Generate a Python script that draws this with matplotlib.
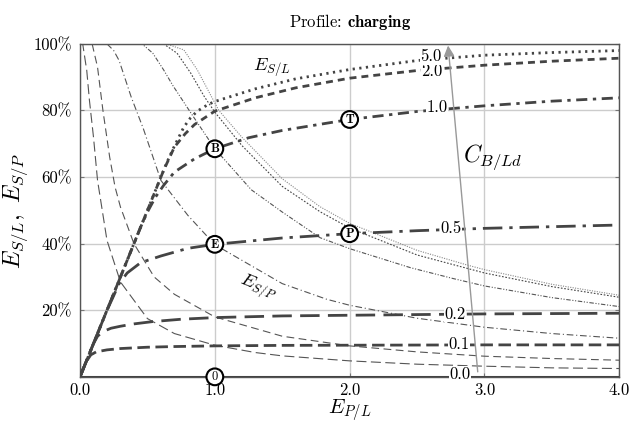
import numpy as np
import matplotlib
matplotlib.use("Agg")
import matplotlib.pyplot as plt

plt.rcParams['font.family'] = 'serif'
plt.rcParams['font.serif'] = ['cmr10']
plt.rcParams['mathtext.fontset'] = 'cm'
plt.rcParams['axes.formatter.use_mathtext'] = True

# battery capacity C_B/Ld of each curve pair
cap_labels = ['0.0', '0.1', '0.2', '0.5', '1.0', '2.0', '5.0']

# E_S/L (thick curves), in percent
sl_x_00 = [0.0, 4.0]
sl_y_00 = [0.0, 0.0]
sl_x_01 = [0, 0.03, 0.05, 0.08, 0.12, 0.2, 0.3, 0.5, 0.7, 1.0, 1.5, 2.0, 3.0, 4.0]
sl_y_01 = [0, 3.0, 4.8, 6.6, 7.5, 8.1, 8.5, 8.9, 9.1, 9.3, 9.45, 9.5, 9.6, 9.6]
sl_x_02 = [0, 0.1, 0.13, 0.17, 0.23, 0.3, 0.4, 0.54, 0.75, 1.0, 1.5, 2.0, 2.5, 3.0, 4.0]
sl_y_02 = [0, 10, 12.2, 13.6, 14.6, 15.2, 15.9, 16.6, 17.3, 17.8, 18.3, 18.5, 18.7, 18.9, 19.1]
sl_x_05 = [0, 0.2, 0.24, 0.29, 0.35, 0.45, 0.6, 0.8, 1.0, 1.5, 2.0, 2.5, 3.0, 3.5, 4.0]
sl_y_05 = [0, 20, 23.5, 28, 31.2, 34.3, 36.3, 38.6, 39.8, 41.7, 43.0, 43.9, 44.6, 45.1, 45.6]
sl_x_10 = [0, 0.45, 0.5, 0.56, 0.62, 0.7, 0.85, 1.0, 1.25, 1.5, 2.0, 2.5, 3.0, 3.5, 4.0]
sl_y_10 = [0, 45, 49.5, 54, 57.5, 61.5, 65.5, 68.5, 71.8, 74, 77.3, 79.7, 81.4, 82.8, 83.8]
sl_x_20 = [0, 0.62, 0.7, 0.78, 0.85, 1.0, 1.3, 1.6, 2.0, 2.5, 3.0, 3.5, 4.0]
sl_y_20 = [0, 62, 69, 73, 75.8, 79.8, 83.8, 86.8, 89.7, 92.0, 93.6, 94.8, 95.7]
sl_x_50 = [0, 0.64, 0.7, 0.77, 0.82, 0.87, 0.95, 1.0, 1.3, 1.6, 2.0, 2.5, 3.0, 3.5, 4.0]
sl_y_50 = [0, 64, 69.3, 75, 77.8, 79.8, 81.8, 82.7, 86.5, 89.5, 92.3, 95, 96.6, 97.4, 98]

# E_S/P (thin curves), in percent
sp_x_01 = [0, 0.02, 0.05, 0.07, 0.1, 0.13, 0.2, 0.3, 0.5, 0.7, 1.0, 1.3, 1.5, 2.0, 2.5, 3.0, 3.5, 4.0]
sp_y_01 = [100, 100, 92, 83, 72, 59, 41, 28.5, 17.5, 13, 9.5, 7.3, 6.3, 4.8, 3.8, 3.2, 2.7, 2.5]
sp_x_02 = [0, 0.09, 0.13, 0.17, 0.22, 0.26, 0.3, 0.4, 0.55, 0.7, 1.0, 1.5, 2.0, 2.5, 3.0, 3.5, 4.0]
sp_y_02 = [100, 100, 93, 80, 66, 57, 51, 40, 30, 24.8, 18, 12.2, 9.3, 7.5, 6.2, 5.5, 5.0]
sp_x_05 = [0, 0.2, 0.25, 0.29, 0.38, 0.47, 0.6, 0.8, 1.0, 1.5, 1.83, 2.0, 2.5, 3.0, 3.5, 4.0]
sp_y_05 = [100, 100, 98, 95, 84, 74.5, 59, 48.5, 39.7, 28, 23.3, 21.5, 17.6, 14.9, 13, 11.6]
sp_x_10 = [0, 0.46, 0.54, 0.62, 0.69, 0.82, 1.0, 1.27, 1.5, 1.78, 2.0, 2.45, 2.77, 3.0, 3.5, 4.0]
sp_y_10 = [100, 100, 97.2, 92.2, 87.4, 79.4, 68.5, 56.2, 49.5, 41.8, 38.5, 32.8, 29.5, 27.3, 23.8, 21.1]
sp_x_20 = [0, 0.62, 0.72, 0.82, 0.92, 1.0, 1.2, 1.5, 1.78, 2.0, 2.5, 2.87, 3.0, 3.5, 4.0]
sp_y_20 = [100, 100, 97.2, 91.3, 84.3, 79.5, 69.5, 57.2, 49.6, 44.7, 36.6, 32.6, 31.2, 27.1, 23.9]
sp_x_50 = [0, 0.64, 0.77, 0.87, 0.96, 1.03, 1.2, 1.5, 1.78, 2.0, 2.5, 2.87, 3.0, 3.5, 4.0]
sp_y_50 = [100, 100, 98.2, 92.2, 85.3, 80, 72, 59.5, 51.1, 46.1, 38, 33.6, 32.2, 27.8, 24.5]

x_ticks = [0, 1, 2, 3, 4]
x_ticklabels = ['0.0', '1.0', '2.0', '3.0', '4.0']
y_ticks = [0, 20, 40, 60, 80, 100]
y_ticklabels = ['', '20%', '40%', '60%', '80%', '100%']

thick_col = '#444444'

fig = plt.figure(figsize=(6.3, 4.22), dpi=100)
ax = fig.add_axes([0.127, 0.107, 0.856, 0.789])

sl_curves = [
    (sl_x_00, sl_y_00, '-', 2.2),
    (sl_x_01, sl_y_01, (0, (4.5, 2)), 2.0),
    (sl_x_02, sl_y_02, (0, (7, 3)), 2.0),
    (sl_x_05, sl_y_05, (0, (7, 2.5, 1.2, 2.5)), 2.0),
    (sl_x_10, sl_y_10, (0, (4, 2, 1.2, 2)), 2.0),
    (sl_x_20, sl_y_20, (0, (2.5, 1.8)), 2.0),
    (sl_x_50, sl_y_50, (0, (0.8, 1.6)), 2.0),
]
for xs, ys, ls, lw in sl_curves:
    ax.plot(xs, ys, color=thick_col, ls=ls, lw=lw, zorder=3)

sp_curves = [
    (sp_x_01, sp_y_01, (0, (9, 4)), '#555555'),
    (sp_x_02, sp_y_02, (0, (7, 4)), '#555555'),
    (sp_x_05, sp_y_05, (0, (6, 2.5, 1, 2.5)), '#555555'),
    (sp_x_10, sp_y_10, (0, (4, 1.5, 1, 1.5, 1, 1.5)), '#555555'),
    (sp_x_20, sp_y_20, (0, (1.5, 1.5)), '#444444'),
    (sp_x_50, sp_y_50, (0, (1, 1.2)), '#888888'),
]
for xs, ys, ls, col in sp_curves:
    ax.plot(xs, ys, color=col, ls=ls, lw=0.8, zorder=2)

# capacity labels sitting on the E_S/L curves
label_x = [2.82, 2.81, 2.78, 2.75, 2.65, 2.61, 2.6]
label_dy = [0.8, 0.3, 0.0, 0.4, 0.6, -0.6, 0.8]
for (xs, ys, _, _), lab, lx, dy in zip(sl_curves, cap_labels, label_x, label_dy):
    ly = np.interp(lx, xs, ys)
    ax.text(lx, ly + dy, lab, ha='center', va='center', fontsize=12, zorder=5,
            bbox=dict(fc='white', ec='none', pad=0.2))

# arrow for increasing capacity
ax.annotate('', xy=(2.73, 99.5), xytext=(2.95, 1.5),
            arrowprops=dict(arrowstyle='-|>', color='#999999', lw=1.0,
                            mutation_scale=16, shrinkA=0, shrinkB=0),
            zorder=4)
ax.text(3.06, 66, r'$C_{B/Ld}$', fontsize=17, ha='center', va='center')

ax.text(1.42, 93, r'$E_{S/L}$', fontsize=13, ha='center', va='center')
ax.text(1.32, 27, r'$E_{S/P}$', fontsize=13, ha='center', va='center', rotation=-22)

# circled operating points
points = [('0', sl_x_00, sl_y_00, 1.0), ('E', sl_x_05, sl_y_05, 1.0),
          ('B', sl_x_10, sl_y_10, 1.0), ('T', sl_x_10, sl_y_10, 2.0),
          ('P', sl_x_05, sl_y_05, 2.0)]
for name, xs, ys, px in points:
    py = np.interp(px, xs, ys)
    ax.text(px, py, r'$\mathbf{%s}$' % name, fontsize=9, ha='center', va='center', zorder=6,
            bbox=dict(boxstyle='circle,pad=0.15', fc='white', ec='black', lw=1.5))

ax.set_xlim(0, 4)
ax.set_ylim(0, 100)
ax.set_xticks(x_ticks)
ax.set_xticklabels(x_ticklabels, fontsize=12)
ax.set_yticks(y_ticks)
ax.set_yticklabels(y_ticklabels, fontsize=12)
ax.tick_params(direction='in', length=3, color='#777777', right=True)
ax.tick_params(axis='x', pad=4)
ax.tick_params(axis='y', pad=6)
ax.grid(True, color='#cccccc', lw=1.0, zorder=0)
ax.set_axisbelow(True)
for s in ax.spines.values():
    s.set_color('#555555')
    s.set_linewidth(1.0)

ax.set_xlabel(r'$E_{P/L}$', fontsize=15)
ax.xaxis.set_label_coords(0.5, -0.062)
ax.set_ylabel(r'$E_{S/L},\ E_{S/P}$', fontsize=17, labelpad=2)
ax.set_title(r'Profile: $\mathbf{charging}$', fontsize=12, pad=12)

fig.savefig('out.png', dpi=100)
